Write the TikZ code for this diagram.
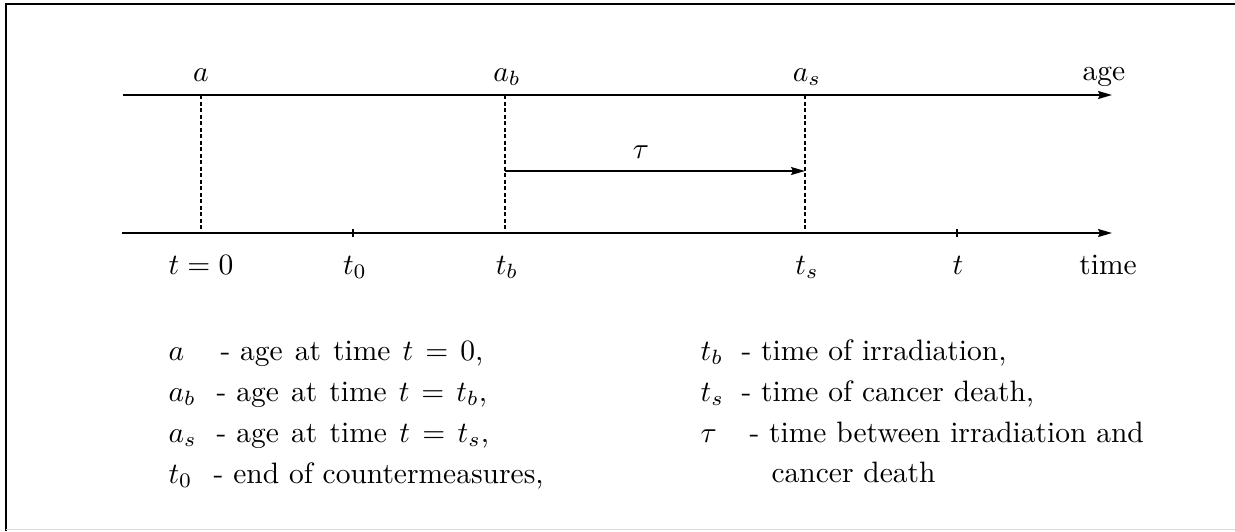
\documentclass[tikz,border=0pt]{standalone}
\usetikzlibrary{arrows.meta}
\begin{document}
\begin{tikzpicture}[x=1pt,y=-1pt,
  axis/.style={line width=1.9pt,-{Stealth[length=14pt,width=8pt,inset=2pt]}},
  guide/.style={line width=1.4pt,dash pattern=on 4pt off 2.5pt},
  tick/.style={line width=1.4pt},
  lbl/.style={anchor=base,inner sep=0pt,scale=2.95,font=\fontsize{10}{12}\selectfont},
  leg/.style={anchor=base west,inner sep=0pt,scale=2.95,font=\fontsize{10}{12}\selectfont}]
\useasboundingbox (0,0) rectangle (1235,531);
% frame
\draw[line width=2pt] (6,531) -- (6,3.5) -- (1235,3.5);
\draw[line width=1.5pt,black!15] (6,529.5) -- (1235,529.5);
% axes
\coordinate (agestart) at (123,95);
\coordinate (ageend) at (1112,95);
\coordinate (timestart) at (122,233);
\coordinate (timeend) at (1112,233);
\draw[axis] (agestart) -- (ageend);
\draw[axis] (timestart) -- (timeend);
% points
\coordinate (pa) at (201,95);
\coordinate (pab) at (505,95);
\coordinate (pas) at (805,95);
\coordinate (pt0) at (201,233);
\coordinate (ptb) at (505,233);
\coordinate (pts) at (805,233);
\coordinate (pto) at (353,233);
\coordinate (pt) at (957,233);
\draw[guide] (pa) -- (pt0);
\draw[guide] (pab) -- (ptb);
\draw[guide] (pas) -- (pts);
\draw[tick] ([yshift=-4pt]pto) -- ([yshift=4pt]pto);
\draw[tick] ([yshift=-4pt]pt) -- ([yshift=4pt]pt);
% tau arrow
\coordinate (taus) at (505,171);
\coordinate (taue) at (805,171);
\draw[line width=1.6pt,-{Stealth[length=14pt,width=8pt,inset=2pt]}] (taus) -- (taue);
\node[lbl] (tau) at (641,158) {$\tau$};
% top labels
\node[lbl] (la) at (201,81) {$a$};
\node[lbl] (lab) at (507,81) {$a_b$};
\node[lbl] (las) at (807,81) {$a_s$};
\node[lbl] (lage) at (1104,80) {age};
% bottom labels
\node[lbl] (lt0) at (201,274) {$t=0$};
\node[lbl] (lto) at (355,274) {$t_0$};
\node[lbl] (ltb) at (507,274) {$t_b$};
\node[lbl] (lts) at (807,274) {$t_s$};
\node[lbl] (lt) at (958,274) {$t$};
\node[lbl] (ltime) at (1108,274) {time};
% legend left
\node[leg] (g1) at (168,360) {\makebox[17.6pt][l]{$a$}- \makebox[82.4pt][s]{age at time $t=0$,}};
\node[leg] (g2) at (168,401) {\makebox[16.3pt][l]{$a_b$}- \makebox[85pt][s]{age at time $t=t_b$,}};
\node[leg] (g3) at (168,442) {\makebox[16.3pt][l]{$a_s$}- \makebox[85.7pt][s]{age at time $t=t_s$,}};
\node[leg] (g4) at (168,483) {\makebox[15.3pt][l]{$t_0$}- end of countermeasures,};
% legend right
\node[leg] (h1) at (700,360) {\makebox[13.9pt][l]{$t_b$}- time of irradiation,};
\node[leg] (h2) at (700,401) {\makebox[13.9pt][l]{$t_s$}- time of cancer death,};
\node[leg] (h3) at (700,442) {\makebox[16.6pt][l]{$\tau$}- time between irradiation and};
\node[leg] (h4) at (771,482) {cancer death};
\end{tikzpicture}
\end{document}
